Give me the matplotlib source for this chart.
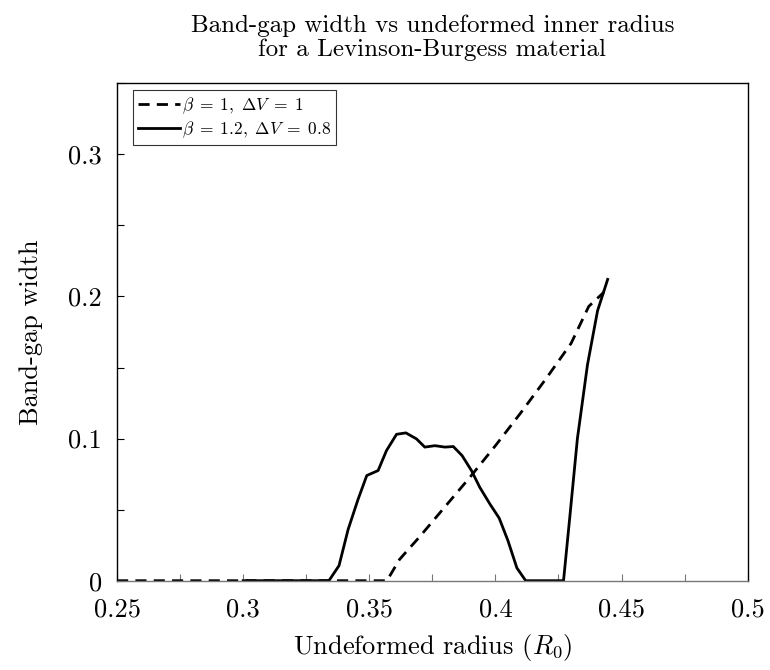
import matplotlib
matplotlib.use("Agg")
import matplotlib.pyplot as plt
from matplotlib.ticker import MultipleLocator

plt.rcParams["font.family"] = "serif"
plt.rcParams["font.serif"] = ["cmr10", "DejaVu Serif"]
plt.rcParams["mathtext.fontset"] = "cm"
plt.rcParams["axes.unicode_minus"] = False
plt.rcParams["axes.formatter.use_mathtext"] = True

# Band-gap width for beta = 1, dV = 1
r_beta1 = [0.25, 0.26, 0.27, 0.28, 0.29, 0.30, 0.31, 0.32, 0.33, 0.34, 0.35,
           0.357, 0.362, 0.37, 0.38, 0.39, 0.40, 0.41, 0.42, 0.43, 0.437, 0.443]
w_beta1 = [0.0, 0.0, 0.0, 0.0, 0.0, 0.0, 0.0, 0.0, 0.0, 0.0, 0.0,
           0.0, 0.015, 0.031, 0.052, 0.073, 0.095, 0.118, 0.142, 0.167, 0.193, 0.203]

# Band-gap width for beta = 1.2, dV = 0.8
r_beta12 = [0.30, 0.31, 0.32, 0.332, 0.334, 0.338, 0.3416, 0.3455, 0.349, 0.3535,
            0.3568, 0.3608, 0.3645, 0.3687, 0.372, 0.376, 0.380, 0.3833, 0.3868,
            0.3905, 0.3938, 0.3978, 0.4015, 0.405, 0.4085, 0.412, 0.427, 0.4295,
            0.4325, 0.4365, 0.4405, 0.4445]
w_beta12 = [0.0, 0.0, 0.0, 0.0, 0.0, 0.0106, 0.036, 0.057, 0.074, 0.0775,
            0.0915, 0.103, 0.104, 0.0998, 0.094, 0.095, 0.094, 0.0944, 0.088,
            0.0775, 0.0657, 0.054, 0.044, 0.028, 0.009, 0.0, 0.0, 0.045,
            0.1, 0.152, 0.19, 0.212]

x_ticks = [0.25, 0.3, 0.35, 0.4, 0.45, 0.5]
x_tick_labels = ["0.25", "0.3", "0.35", "0.4", "0.45", "0.5"]
y_ticks = [0, 0.1, 0.2, 0.3]
y_tick_labels = ["0", "0.1", "0.2", "0.3"]

fig = plt.figure(figsize=(7.7, 6.7), dpi=100)
ax = fig.add_axes([0.152, 0.1333, 0.819, 0.7424])

ax.plot(r_beta1, w_beta1, color="black", linestyle=(0, (4.0, 2.6)), linewidth=2.0,
        label=r"$\beta\;=\;1,\ \Delta V\;=\;1$")
ax.plot(r_beta12, w_beta12, color="black", linestyle="-", linewidth=2.0,
        label=r"$\beta\;=\;1.2,\ \Delta V\;=\;0.8$")

ax.set_xlim(0.25, 0.5)
ax.set_ylim(0, 0.35)
ax.set_xticks(x_ticks)
ax.set_xticklabels(x_tick_labels)
ax.set_yticks(y_ticks)
ax.set_yticklabels(y_tick_labels)
ax.xaxis.set_minor_locator(MultipleLocator(0.025))
ax.yaxis.set_minor_locator(MultipleLocator(0.05))
ax.tick_params(which="both", direction="in", top=False, right=False,
               labelsize=19)
ax.tick_params(axis="x", pad=12)
ax.tick_params(axis="y", pad=11)
ax.tick_params(which="major", length=5, width=0.8)
ax.tick_params(which="minor", length=5, width=0.8)

for side in ["left", "top", "right"]:
    ax.spines[side].set_linewidth(1.0)
    ax.spines[side].set_color("black")
ax.spines["bottom"].set_linewidth(1.0)
ax.spines["bottom"].set_color("#777777")
ax.tick_params(axis="x", which="both", color="#777777")

ax.set_xlabel(r"Undeformed radius ($R_0$)", fontsize=19, labelpad=8)
ax.set_ylabel("Band-gap width", fontsize=19, labelpad=18)
ax.set_title("Band-gap width vs undeformed inner radius\nfor a Levinson-Burgess material",
             fontsize=18, pad=20, linespacing=1.05)

leg = ax.legend(loc="upper left", bbox_to_anchor=(0.0254, 0.986), borderaxespad=0,
                fontsize=12.5, frameon=True, fancybox=False,
                edgecolor="black", handlelength=2.4, handletextpad=0.1,
                borderpad=0.3, labelspacing=0.2)
leg.get_frame().set_linewidth(0.8)

fig.savefig("out.png", dpi=100)
